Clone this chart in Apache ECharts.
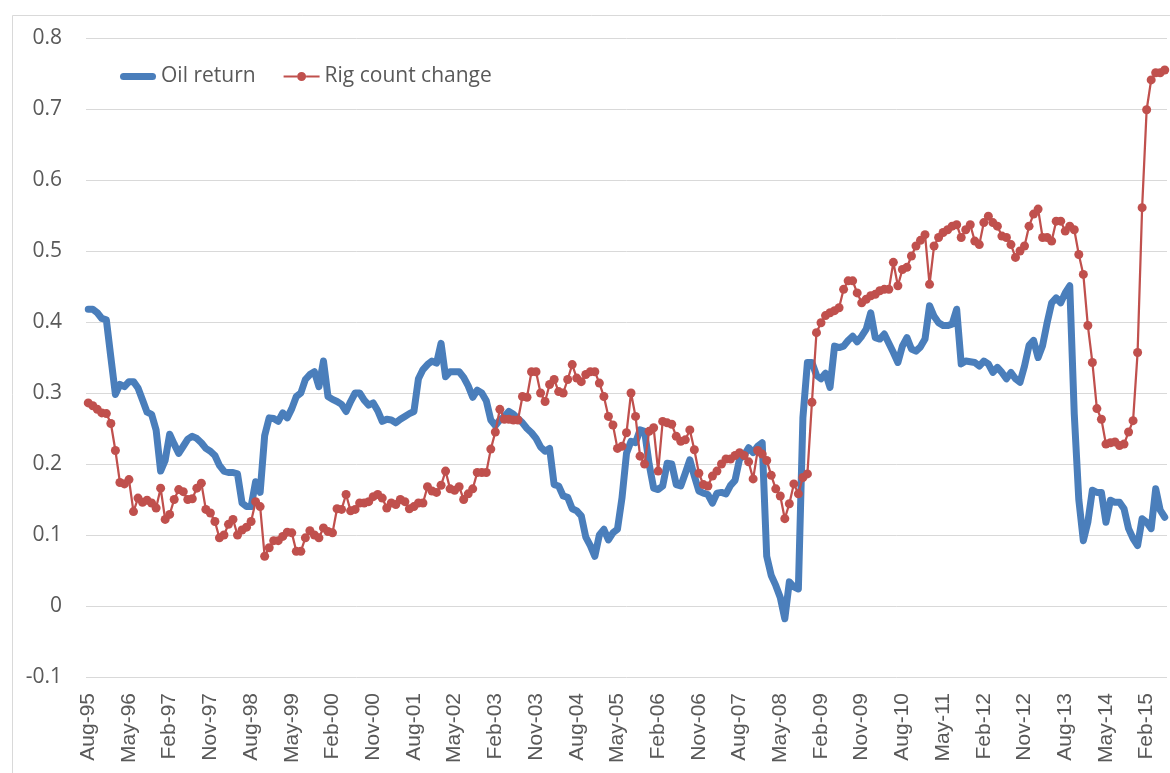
<!DOCTYPE html>
<html>
<head>
<meta charset="utf-8">
<title>Oil return vs rig count change</title>
<script src="https://cdn.jsdelivr.net/npm/echarts@6/dist/echarts.min.js"></script>
<style>
  html, body { margin: 0; padding: 0; background: #ffffff; }
  #chart { width: 1170px; height: 773px; }
</style>
</head>
<body>
<div id="chart"></div>
<script>
// monthly observations, Aug-95 .. Jun-15
const startYear = 1995;
const startMonth = 7; // August (0-based)
const monthNames = ['Jan', 'Feb', 'Mar', 'Apr', 'May', 'Jun', 'Jul', 'Aug', 'Sep', 'Oct', 'Nov', 'Dec'];

const oilReturn = [
  0.418, 0.418, 0.413, 0.405, 0.403, 0.35, 0.298, 0.312, 0.309, 0.316,
  0.316, 0.307, 0.29, 0.273, 0.27, 0.248, 0.19, 0.205, 0.242, 0.228,
  0.215, 0.225, 0.235, 0.239, 0.236, 0.23, 0.222, 0.218, 0.212, 0.198,
  0.19, 0.188, 0.188, 0.186, 0.145, 0.14, 0.14, 0.175, 0.16, 0.24,
  0.265, 0.264, 0.26, 0.272, 0.265, 0.278, 0.295, 0.3, 0.319, 0.326,
  0.33, 0.309, 0.345, 0.295, 0.291, 0.288, 0.284, 0.274, 0.288, 0.3,
  0.3, 0.29, 0.283, 0.286, 0.275, 0.26, 0.263, 0.262, 0.258, 0.263,
  0.267, 0.271, 0.274, 0.32, 0.333, 0.34, 0.345, 0.342, 0.37, 0.323,
  0.33, 0.33, 0.33, 0.322, 0.31, 0.294, 0.304, 0.3, 0.289, 0.262,
  0.254, 0.262, 0.267, 0.274, 0.27, 0.264, 0.258, 0.25, 0.244, 0.236,
  0.224, 0.218, 0.222, 0.171, 0.169, 0.155, 0.153, 0.137, 0.134, 0.127,
  0.097, 0.085, 0.07, 0.1, 0.108, 0.093, 0.103, 0.108, 0.152, 0.215,
  0.232, 0.23, 0.248, 0.246, 0.2, 0.166, 0.164, 0.169, 0.201, 0.2,
  0.171, 0.169, 0.187, 0.206, 0.183, 0.162, 0.159, 0.157, 0.145, 0.159,
  0.16, 0.158, 0.17, 0.177, 0.207, 0.212, 0.223, 0.216, 0.225, 0.23,
  0.07, 0.043, 0.029, 0.012, -0.018, 0.034, 0.027, 0.024, 0.265, 0.343,
  0.343, 0.325, 0.32, 0.328, 0.308, 0.366, 0.364, 0.366, 0.374, 0.38,
  0.372, 0.38, 0.39, 0.413, 0.378, 0.376, 0.383, 0.37, 0.357, 0.343,
  0.366, 0.378, 0.362, 0.359, 0.365, 0.376, 0.423, 0.408, 0.399, 0.395,
  0.395, 0.397, 0.418, 0.341, 0.345, 0.344, 0.343, 0.338, 0.345, 0.341,
  0.329, 0.336, 0.329, 0.32, 0.329, 0.32, 0.315, 0.338, 0.367, 0.374,
  0.35, 0.367, 0.399, 0.427, 0.434, 0.427, 0.441, 0.451, 0.27, 0.15,
  0.092, 0.118, 0.163, 0.16, 0.16, 0.118, 0.149, 0.146, 0.146, 0.137,
  0.109, 0.095, 0.085, 0.123, 0.118, 0.109, 0.165, 0.135, 0.125
];

const rigCountChange = [
  0.286, 0.282, 0.277, 0.272, 0.271, 0.257, 0.219, 0.174, 0.172, 0.178,
  0.133, 0.152, 0.146, 0.149, 0.145, 0.138, 0.166, 0.122, 0.129, 0.15,
  0.164, 0.161, 0.15, 0.151, 0.166, 0.173, 0.136, 0.131, 0.119, 0.096,
  0.1, 0.115, 0.122, 0.1, 0.107, 0.111, 0.119, 0.147, 0.14, 0.07,
  0.082, 0.092, 0.092, 0.098, 0.104, 0.103, 0.077, 0.077, 0.096, 0.106,
  0.1, 0.096, 0.11, 0.105, 0.103, 0.137, 0.136, 0.157, 0.134, 0.136,
  0.145, 0.145, 0.147, 0.154, 0.157, 0.152, 0.138, 0.145, 0.143, 0.15,
  0.147, 0.137, 0.14, 0.145, 0.145, 0.168, 0.162, 0.16, 0.17, 0.19,
  0.165, 0.163, 0.168, 0.15, 0.158, 0.165, 0.188, 0.188, 0.188, 0.221,
  0.245, 0.277, 0.263, 0.263, 0.262, 0.262, 0.295, 0.294, 0.33, 0.33,
  0.3, 0.288, 0.312, 0.319, 0.302, 0.3, 0.319, 0.34, 0.321, 0.316,
  0.326, 0.33, 0.33, 0.314, 0.295, 0.267, 0.255, 0.222, 0.225, 0.244,
  0.3, 0.267, 0.211, 0.2, 0.246, 0.251, 0.19, 0.26, 0.258, 0.256,
  0.239, 0.232, 0.234, 0.248, 0.22, 0.187, 0.171, 0.169, 0.183, 0.19,
  0.2, 0.207, 0.207, 0.212, 0.216, 0.212, 0.203, 0.179, 0.219, 0.214,
  0.205, 0.184, 0.165, 0.155, 0.123, 0.144, 0.172, 0.158, 0.181, 0.186,
  0.287, 0.385, 0.399, 0.409, 0.413, 0.416, 0.42, 0.446, 0.458, 0.458,
  0.441, 0.427, 0.432, 0.437, 0.439, 0.444, 0.446, 0.446, 0.484, 0.451,
  0.474, 0.477, 0.493, 0.507, 0.515, 0.523, 0.453, 0.507, 0.519, 0.526,
  0.53, 0.535, 0.537, 0.519, 0.53, 0.537, 0.514, 0.509, 0.54, 0.549,
  0.54, 0.535, 0.521, 0.519, 0.509, 0.491, 0.5, 0.507, 0.535, 0.552,
  0.559, 0.519, 0.519, 0.514, 0.542, 0.542, 0.528, 0.535, 0.53, 0.495,
  0.467, 0.395, 0.343, 0.278, 0.263, 0.228, 0.23, 0.231, 0.226, 0.228,
  0.245, 0.261, 0.357, 0.561, 0.699, 0.741, 0.751, 0.751, 0.755
];

const categories = [];
for (let k = 0; k < oilReturn.length; k++) {
  const m = startMonth + k;
  const yy = (startYear + Math.floor(m / 12)) % 100;
  categories.push(monthNames[m % 12] + '-' + String(yy).padStart(2, '0'));
}

const textColor = '#595959';
const gridColor = '#d9d9d9';
const blue = '#4a7ebb';
const red = '#c0504d';

// legend glyphs like the spreadsheet ones: fat rounded bar / thin line with a dot
const thickLineIcon = 'path://M3.5,0 H32.5 A3.5,3.5 0 0 1 32.5,7 H3.5 A3.5,3.5 0 0 1 3.5,0 Z';
const dotLineIcon = 'path://M0,3.5 H13.5 V5.5 H0 Z M22.5,3.5 H36 V5.5 H22.5 Z M18,0 A4.5,4.5 0 1 1 18,9 A4.5,4.5 0 1 1 18,0 Z';

const chart = echarts.init(document.getElementById('chart'), null, { renderer: 'canvas' });

const option = {
  animation: false,
  backgroundColor: '#ffffff',
  graphic: [{
    type: 'rect',
    shape: { x: 12.5, y: 15.5, width: 1200, height: 800 },
    style: { fill: 'none', stroke: gridColor, lineWidth: 1 },
    silent: true
  }],
  grid: { left: 86, right: 3, top: 38, bottom: 96 },
  legend: {
    data: [
      { name: 'Oil return', icon: thickLineIcon, itemStyle: { color: blue, borderWidth: 0 } },
      { name: 'Rig count change', icon: dotLineIcon, itemStyle: { color: red, borderWidth: 0 } }
    ],
    left: 120,
    top: 66,
    padding: 0,
    itemWidth: 36,
    itemHeight: 20,
    itemGap: 28,
    textStyle: { fontFamily: 'Open Sans', fontSize: 21, color: textColor }
  },
  xAxis: {
    type: 'category',
    data: categories,
    boundaryGap: true,
    axisLine: { show: false },
    axisTick: { show: false },
    axisLabel: {
      interval: 8,
      rotate: 90,
      margin: 16,
      fontFamily: 'Liberation Sans',
      fontSize: 21,
      color: textColor
    },
    splitLine: { show: false }
  },
  yAxis: {
    type: 'value',
    min: -0.1,
    max: 0.8,
    interval: 0.1,
    axisLine: { show: false },
    axisTick: { show: false },
    axisLabel: {
      margin: 24,
      fontFamily: 'Open Sans',
      fontSize: 21,
      color: textColor,
      formatter: function (v) { return String(Math.round(v * 10) / 10); }
    },
    splitLine: { lineStyle: { color: gridColor, width: 1 } }
  },
  series: [
    {
      name: 'Oil return',
      type: 'line',
      data: oilReturn,
      symbol: 'none',
      color: blue,
      lineStyle: { width: 7, color: blue, join: 'round', cap: 'round' }
    },
    {
      name: 'Rig count change',
      type: 'line',
      data: rigCountChange,
      symbol: 'circle',
      symbolSize: 9,
      showAllSymbol: true,
      color: red,
      itemStyle: { color: red },
      lineStyle: { width: 2.25, color: red }
    }
  ]
};

chart.setOption(option);
</script>
</body>
</html>
